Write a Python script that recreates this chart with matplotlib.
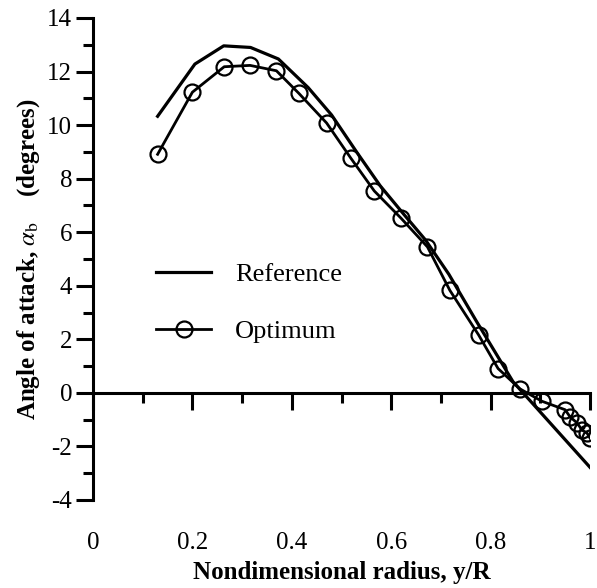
import numpy as np
import matplotlib
matplotlib.use("Agg")
import matplotlib.pyplot as plt
from matplotlib.ticker import MultipleLocator

plt.rcParams['font.family'] = ['Liberation Serif', 'DejaVu Serif']
plt.rcParams['mathtext.fontset'] = 'stix'
plt.rcParams['axes.unicode_minus'] = False

# reference blade angle of attack
ref_x = [0.13, 0.205, 0.263, 0.317, 0.373, 0.433, 0.48, 0.531, 0.578, 0.624,
         0.669, 0.716, 0.771, 0.845, 1.0]
ref_y = [10.33, 12.28, 12.96, 12.9, 12.47, 11.4, 10.38, 8.98, 7.73, 6.7,
         5.71, 4.43, 2.69, 0.42, -2.78]

# optimum blade angle of attack
opt_x = [0.13, 0.2, 0.264, 0.316, 0.369, 0.414, 0.47, 0.519, 0.566, 0.62,
         0.673, 0.718, 0.776, 0.815, 0.859, 0.903, 0.95, 0.96, 0.974, 0.984,
         0.994, 1.0]
opt_y = [8.91, 11.23, 12.18, 12.23, 12.03, 11.19, 10.08, 8.76, 7.54, 6.52,
         5.45, 3.83, 2.16, 0.91, 0.15, -0.31, -0.63, -0.9, -1.12, -1.39,
         -1.5, -1.69]

xticks = [0, 0.2, 0.4, 0.6, 0.8, 1]
xticklabels = ['0', '0.2', '0.4', '0.6', '0.8', '1']
yticks = [-4, -2, 0, 2, 4, 6, 8, 10, 12, 14]

fig = plt.figure(figsize=(5.97, 5.88), dpi=100)
ax = fig.add_axes([93/597, 1-500/588, (590-93)/597, (500-18)/588])

ax.plot(ref_x, ref_y, color='black', lw=2.3, label='Reference')
ax.plot(opt_x, opt_y, color='black', lw=2.0, marker='o', markersize=11.5,
        markerfacecolor='none', markeredgewidth=1.6, label='Optimum')

ax.set_xlim(0, 1)
ax.set_ylim(-4, 14)

ax.spines['top'].set_visible(False)
ax.spines['right'].set_visible(False)
ax.spines['bottom'].set_position(('data', 0))
ax.spines['bottom'].set_linewidth(2.2)
ax.spines['left'].set_linewidth(2.2)

ax.set_xticks(xticks)
ax.set_xticklabels(xticklabels)
ax.set_yticks(yticks)
ax.xaxis.set_minor_locator(MultipleLocator(0.1))
ax.yaxis.set_minor_locator(MultipleLocator(1))
ax.tick_params(axis='both', which='major', direction='out', length=12,
               width=2.2, labelsize=18)
ax.tick_params(axis='both', which='minor', direction='out', length=7,
               width=2.2)
ax.tick_params(axis='x', which='major', pad=88)
ax.tick_params(axis='y', which='major', pad=3)

ax.set_xlabel('Nondimensional radius, y/R', fontsize=18, fontweight='bold',
              labelpad=5)
ax.set_ylabel(r'Angle of attack, $\alpha_{\rm b}$    (degrees)', fontsize=18,
              fontweight='bold', labelpad=4)

ax.legend(loc='upper left', bbox_to_anchor=(156/597, 1-263/588),
          bbox_transform=fig.transFigure, frameon=False, fontsize=19,
          handlelength=2.1, handletextpad=0.9, labelspacing=1.25,
          borderpad=0, borderaxespad=0)

fig.savefig('out.png', dpi=100)
